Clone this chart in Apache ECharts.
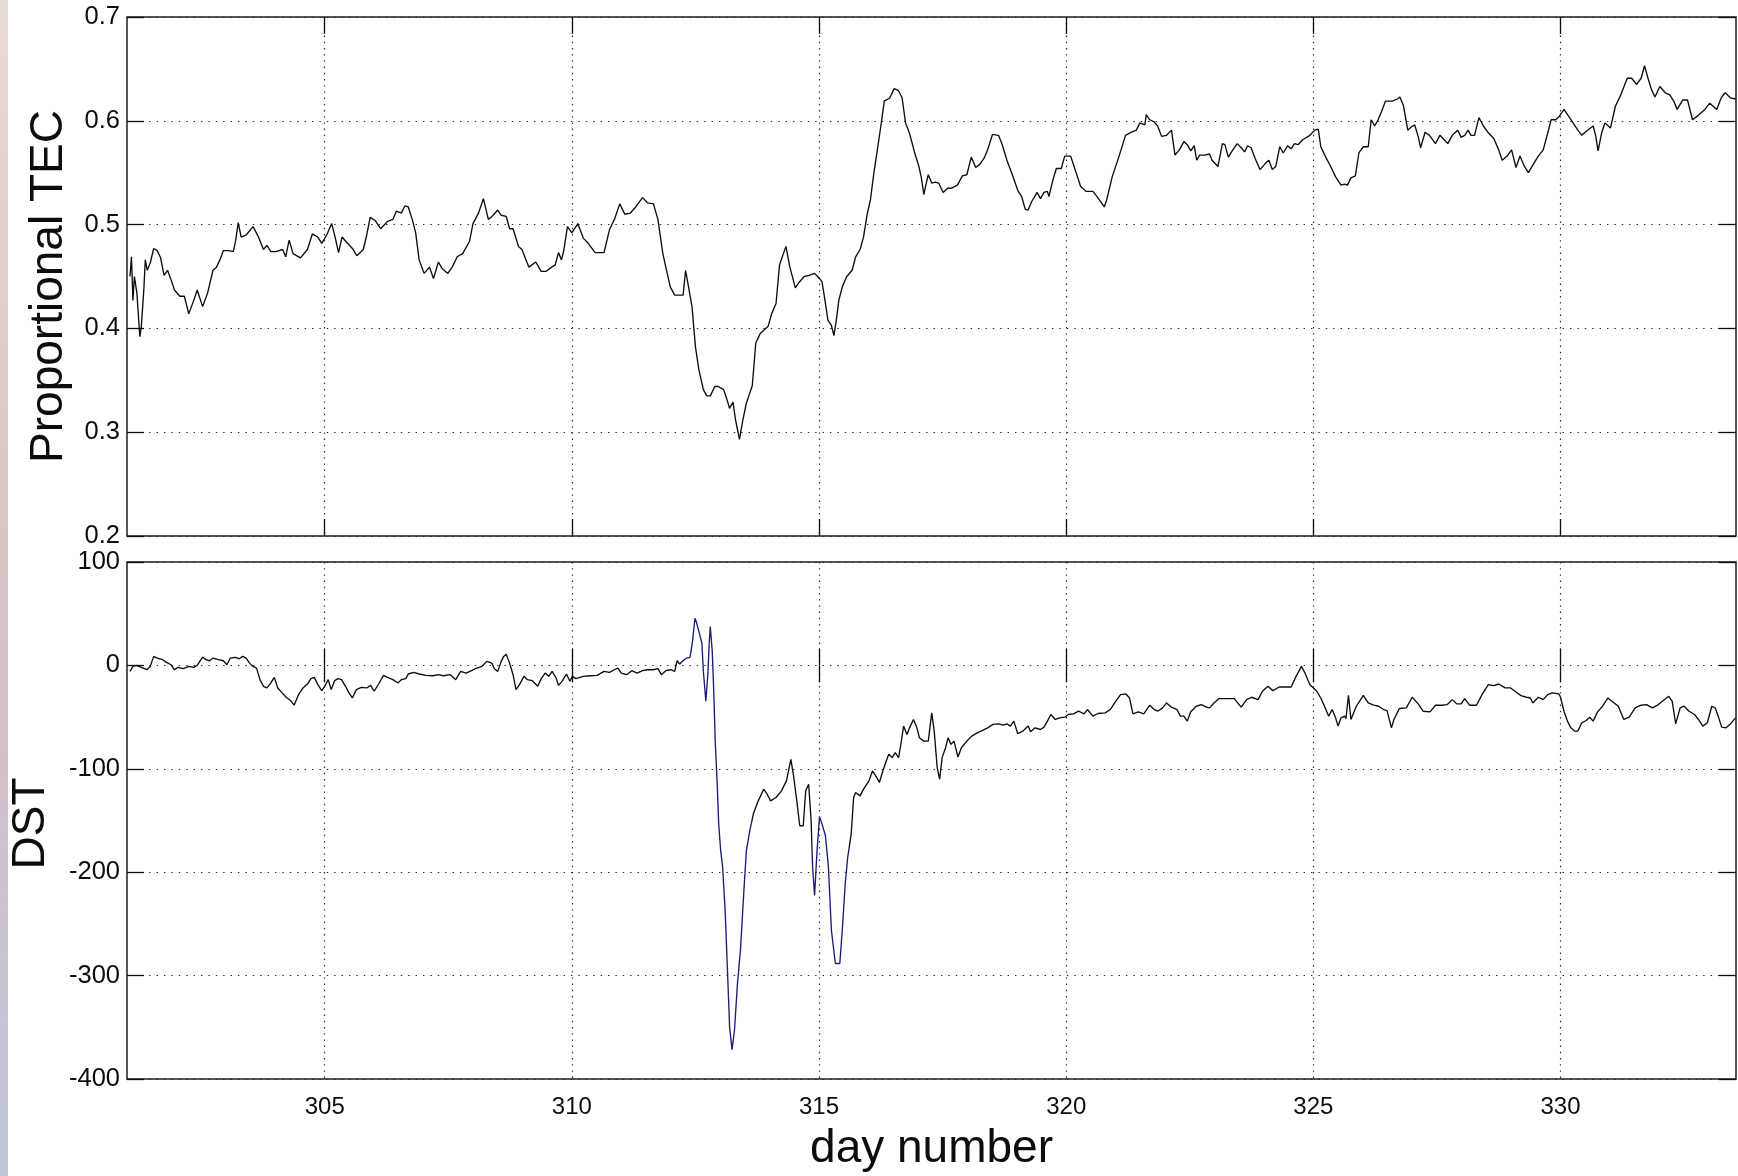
<!DOCTYPE html>
<html>
<head>
<meta charset="utf-8">
<title>Proportional TEC and DST</title>
<script src="https://cdn.jsdelivr.net/npm/echarts@6/dist/echarts.min.js"></script>
<style>
  html, body { margin: 0; padding: 0; background: #ffffff; }
  #chart { width: 1738px; height: 1176px; }
</style>
</head>
<body>
<div id="chart"></div>
<script>
// Day-of-year positions and proportional TEC values
const tecDays = [
  301.06,301.09,301.12,301.15,301.20,301.26,301.29,301.34,301.37,301.41,301.47,301.54,301.61,301.68,301.75,301.82,301.89,301.96,
  302.07,302.16,302.25,302.35,302.42,302.53,302.63,302.74,302.81,302.88,302.95,
  303.06,303.15,303.20,303.25,303.31,303.41,303.55,303.66,303.76,303.83,303.91,
  304.01,304.15,304.21,304.28,304.36,304.51,304.65,304.75,304.86,304.94,
  305.04,305.14,305.21,305.28,305.35,305.46,305.56,305.65,305.78,305.85,305.92,
  306.02,306.13,306.27,306.38,306.45,306.55,306.62,306.69,306.77,306.84,306.91,
  307.01,307.12,307.20,307.30,307.37,307.49,307.58,307.68,307.79,307.93,
  308.00,308.11,308.21,308.31,308.39,308.50,308.57,308.67,308.74,308.81,308.92,308.99,
  309.13,309.27,309.38,309.48,309.59,309.66,309.73,309.79,309.84,309.91,
  310.00,310.12,310.23,310.33,310.47,310.65,310.76,310.86,310.97,
  311.07,311.18,311.29,311.43,311.53,311.65,311.74,311.84,311.90,311.99,
  312.08,312.25,312.30,312.36,312.43,312.50,312.57,312.66,312.73,312.80,312.89,312.96,
  313.07,313.14,313.19,313.26,313.31,313.39,313.46,313.53,313.65,313.72,313.81,313.92,313.97,
  314.04,314.13,314.20,314.33,314.41,314.52,314.59,314.70,314.80,314.91,
  315.01,315.06,315.12,315.18,315.25,315.30,315.35,315.40,315.47,315.56,315.67,315.74,315.83,315.90,315.97,
  316.04,316.11,316.18,316.25,316.32,316.43,316.52,316.61,316.68,316.75,316.83,316.93,
  317.02,317.07,317.12,317.16,317.21,317.28,317.35,317.42,317.51,317.60,317.67,317.80,317.90,317.99,
  318.08,318.17,318.25,318.34,318.41,318.51,318.63,318.70,318.80,318.91,
  319.02,319.10,319.17,319.23,319.30,319.41,319.48,319.55,319.62,319.65,319.72,319.80,319.90,319.97,
  320.09,320.18,320.29,320.40,320.54,320.64,320.77,320.82,320.93,
  321.07,321.20,321.32,321.42,321.49,321.59,321.62,321.69,321.78,321.85,321.93,
  322.03,322.13,322.20,322.29,322.38,322.45,322.52,322.59,322.64,322.70,322.80,322.90,322.95,
  323.07,323.16,323.21,323.28,323.37,323.46,323.54,323.61,323.67,323.74,323.82,323.92,
  324.03,324.10,324.17,324.24,324.32,324.39,324.48,324.55,324.62,324.69,324.79,324.93,
  325.03,325.10,325.15,325.24,325.35,325.45,325.56,325.63,325.69,325.76,325.85,325.92,
  326.01,326.11,326.17,326.24,326.31,326.38,326.46,326.60,326.70,326.75,326.82,326.91,326.98,
  327.05,327.12,327.17,327.26,327.35,327.47,327.56,327.64,327.72,327.81,327.92,327.99,
  328.06,328.13,328.19,328.26,328.35,328.44,328.53,328.65,328.75,328.82,328.92,
  329.01,329.10,329.18,329.27,329.35,329.46,329.55,329.65,329.74,329.81,329.90,329.97,
  330.07,330.17,330.24,330.35,330.43,330.52,330.66,330.71,330.76,330.83,330.90,
  331.01,331.11,331.22,331.35,331.44,331.54,331.63,331.70,331.77,331.84,331.91,
  332.01,332.12,332.21,332.29,332.36,332.47,332.57,332.67,332.78,332.92,
  333.02,333.16,333.25,333.33,333.44,333.54
];
const tecValues = [
  0.450,0.469,0.427,0.450,0.434,0.392,0.402,0.437,0.466,0.456,0.463,0.477,0.475,0.468,0.451,0.456,0.447,0.437,
  0.431,0.431,0.414,0.427,0.437,0.421,0.434,0.456,0.459,0.466,0.475,
  0.475,0.474,0.485,0.502,0.488,0.490,0.498,0.488,0.476,0.480,0.474,
  0.474,0.476,0.469,0.485,0.472,0.468,0.476,0.491,0.488,0.482,
  0.490,0.501,0.488,0.473,0.488,0.482,0.477,0.470,0.476,0.490,0.507,
  0.504,0.496,0.503,0.505,0.513,0.511,0.518,0.517,0.505,0.492,0.466,
  0.453,0.459,0.448,0.464,0.458,0.453,0.459,0.469,0.472,0.484,
  0.501,0.511,0.525,0.505,0.508,0.514,0.509,0.508,0.496,0.496,0.479,0.476,
  0.459,0.464,0.455,0.455,0.459,0.461,0.473,0.466,0.476,0.498,
  0.492,0.501,0.487,0.482,0.473,0.473,0.495,0.505,0.520,
  0.510,0.511,0.517,0.526,0.521,0.520,0.505,0.472,0.459,0.440,
  0.432,0.432,0.456,0.440,0.421,0.382,0.360,0.341,0.335,0.335,0.344,0.344,
  0.341,0.331,0.323,0.329,0.312,0.293,0.312,0.328,0.345,0.386,0.395,0.400,0.402,
  0.414,0.424,0.461,0.479,0.459,0.439,0.444,0.450,0.451,0.453,
  0.448,0.445,0.427,0.408,0.403,0.393,0.408,0.427,0.440,0.450,0.456,0.469,0.476,0.488,0.509,
  0.524,0.550,0.572,0.595,0.619,0.622,0.631,0.629,0.622,0.598,0.588,0.570,
  0.556,0.545,0.529,0.538,0.548,0.540,0.541,0.540,0.531,0.535,0.535,0.538,0.547,0.548,
  0.565,0.555,0.558,0.564,0.572,0.587,0.586,0.578,0.562,0.548,
  0.533,0.527,0.515,0.514,0.522,0.531,0.525,0.531,0.532,0.527,0.541,0.554,0.554,0.566,
  0.566,0.553,0.537,0.532,0.532,0.526,0.517,0.524,0.546,
  0.566,0.586,0.589,0.591,0.598,0.596,0.606,0.601,0.599,0.595,0.585,
  0.586,0.591,0.567,0.572,0.580,0.577,0.571,0.576,0.562,0.567,0.567,0.568,0.562,
  0.556,0.578,0.577,0.565,0.572,0.578,0.574,0.570,0.576,0.574,0.564,0.553,
  0.559,0.562,0.553,0.556,0.575,0.569,0.576,0.573,0.578,0.577,0.582,0.586,
  0.591,0.592,0.575,0.566,0.556,0.546,0.538,0.539,0.538,0.545,0.547,0.569,
  0.575,0.575,0.601,0.595,0.601,0.609,0.619,0.619,0.621,0.623,0.615,0.591,0.594,
  0.596,0.585,0.574,0.589,0.586,0.578,0.586,0.582,0.578,0.586,0.591,0.584,
  0.586,0.591,0.586,0.586,0.603,0.595,0.589,0.583,0.572,0.562,0.566,
  0.572,0.555,0.566,0.556,0.550,0.559,0.566,0.572,0.588,0.601,0.601,0.604,
  0.611,0.604,0.599,0.591,0.586,0.590,0.595,0.586,0.571,0.588,0.598,
  0.593,0.614,0.625,0.641,0.641,0.635,0.641,0.653,0.641,0.630,0.623,
  0.633,0.627,0.625,0.619,0.611,0.620,0.620,0.601,0.605,0.611,
  0.617,0.611,0.622,0.627,0.622,0.621
];

// Day-of-year positions and DST index values (nT)
const dstDays = [
  301.06,301.12,301.19,301.29,301.40,301.47,301.54,301.61,301.72,301.79,301.89,301.96,
  302.03,302.14,302.25,302.35,302.42,302.53,302.60,302.67,302.74,302.85,302.95,
  303.02,303.09,303.20,303.27,303.34,303.41,303.48,303.55,303.62,303.69,303.76,303.83,303.91,303.98,
  304.05,304.14,304.22,304.31,304.38,304.47,304.56,304.65,304.72,304.79,304.86,304.94,
  305.00,305.07,305.13,305.20,305.27,305.34,305.42,305.49,305.56,305.64,305.74,305.85,305.93,
  306.00,306.09,306.19,306.27,306.38,306.48,306.55,306.64,306.69,306.80,306.91,
  307.05,307.19,307.30,307.40,307.54,307.65,307.75,307.86,307.97,
  308.05,308.18,308.28,308.38,308.43,308.50,308.57,308.62,308.67,308.74,308.81,308.87,308.94,
  309.03,309.10,309.20,309.31,309.38,309.46,309.53,309.60,309.68,309.73,309.80,309.89,309.96,
  310.01,310.08,310.23,310.37,310.51,310.65,310.76,310.86,310.93,
  311.00,311.11,311.21,311.32,311.43,311.53,311.64,311.74,311.81,311.90,
  312.00,312.08,312.13,312.18,312.25,312.32,312.39,312.44,312.49,312.52,312.57,312.63,312.66,312.71,312.75,312.78,312.80,312.84,312.87,312.90,312.94,312.97,
  313.01,313.05,313.10,313.15,313.19,313.24,313.29,313.35,313.41,313.48,313.53,313.60,313.67,313.77,313.88,313.95,
  314.02,314.13,314.24,314.34,314.43,314.48,314.55,314.61,314.68,314.73,314.79,314.84,314.87,314.91,314.96,
  315.01,315.06,315.13,315.19,315.25,315.33,315.42,315.47,315.53,315.58,315.65,315.70,315.74,315.83,315.90,
  316.01,316.08,316.17,316.22,316.29,316.36,316.41,316.48,316.54,316.61,316.66,316.71,316.78,316.83,316.91,316.98,
  317.03,317.12,317.21,317.28,317.33,317.39,317.44,317.49,317.56,317.61,317.67,317.73,317.81,317.88,317.99,
  318.09,318.20,318.31,318.41,318.52,318.63,318.73,318.80,318.87,318.94,
  319.02,319.12,319.23,319.28,319.37,319.48,319.55,319.62,319.69,319.78,319.87,319.97,
  320.04,320.15,320.25,320.36,320.43,320.54,320.64,320.79,320.89,320.98,
  321.10,321.21,321.28,321.35,321.46,321.57,321.69,321.78,321.85,321.95,
  322.03,322.13,322.24,322.31,322.38,322.45,322.52,322.63,322.73,322.84,322.90,322.99,
  323.09,323.26,323.40,323.54,323.65,323.75,323.88,323.97,
  324.08,324.18,324.31,324.55,324.65,324.76,324.83,324.90,324.94,
  325.00,325.07,325.15,325.24,325.31,325.38,325.45,325.50,325.56,325.63,325.66,325.71,325.76,325.87,
  326.01,326.11,326.22,326.32,326.42,326.49,326.58,326.63,326.74,326.88,
  327.00,327.12,327.22,327.36,327.47,327.60,327.71,327.81,327.90,327.99,
  328.06,328.16,328.30,328.42,328.54,328.65,328.75,328.88,328.99,
  329.10,329.20,329.31,329.39,329.44,329.55,329.65,329.74,329.83,329.97,
  330.00,330.07,330.14,330.21,330.29,330.35,330.43,330.52,330.59,330.66,330.75,330.85,330.96,
  331.04,331.17,331.28,331.39,331.51,331.63,331.74,331.86,331.98,
  332.08,332.19,332.26,332.33,332.42,332.50,332.60,332.71,332.79,332.88,332.97,
  333.06,333.13,333.19,333.26,333.35,333.44,333.54
];
const dstValues = [
  -5.8,-1.0,0,-1.9,-4.2,-1.0,8.7,7.1,5.5,3.2,0.6,-4.2,
  -1.9,-3.2,-1.0,-1.9,0,8.0,5.5,4.5,7.1,5.5,4.5,
  0.6,7.1,7.7,6.4,8.7,7.1,2.2,-1.0,-2.6,-13.8,-20.2,-21.8,-17.0,-11.6,
  -21.8,-26.6,-30.8,-34.0,-38.5,-28.3,-21.8,-18.0,-12.8,-11.6,-18.6,-24.4,
  -20.2,-13.8,-23.4,-14.8,-12.8,-13.8,-20.2,-26.6,-31.5,-23.4,-21.2,-21.8,-19.3,
  -25.0,-18.0,-9.6,-11.6,-13.8,-17.0,-13.8,-12.8,-8.3,-6.7,-8.3,
  -9.6,-10.0,-9.0,-10.0,-9.0,-13.8,-5.8,-7.4,-5.1,
  -3.2,-1.0,3.9,2.2,-3.2,-5.8,3.9,8.7,10.9,2.2,-9.0,-23.4,-18.6,
  -10.6,-13.8,-14.8,-20.2,-12.8,-7.4,-10.6,-5.8,-12.2,-19.3,-15.4,-8.3,-15.4,
  -10.6,-12.8,-10.6,-10.0,-9.6,-5.8,-6.7,-4.2,-2.6,
  -7.4,-9.0,-5.1,-7.4,-5.1,-4.2,-4.2,-3.2,-9.0,-5.1,
  -4.2,-5.8,4.5,1.3,4.5,7.1,7.7,23.1,45.6,41.7,32.7,21.5,-5.8,-34.7,-9.0,23.1,37.6,13.5,-25.0,-73.2,-114.9,-153.5,
  -179.1,-195.2,-236.9,-297.9,-349.3,-371.7,-352.5,-307.5,-275.4,-217.7,-179.1,-159.9,-143.8,-131.0,-119.7,-124.6,
  -131.0,-127.8,-121.3,-111.7,-90.9,-105.3,-131.0,-155.1,-155.1,-121.3,-114.9,-150.2,-195.2,-222.5,-179.1,
  -146.4,-153.5,-164.7,-195.2,-256.2,-288.3,-288.3,-256.2,-211.2,-185.6,-163.1,-127.8,-123.0,-126.2,-119.7,
  -111.7,-102.1,-108.5,-113.3,-102.1,-92.5,-86.0,-89.2,-84.4,-89.2,-74.8,-58.7,-66.8,-60.4,-52.3,-60.4,
  -70.0,-73.2,-73.2,-45.9,-63.6,-98.9,-110.1,-89.2,-79.6,-70.0,-76.4,-73.2,-88.6,-79.6,-73.2,
  -68.4,-65.2,-62.9,-60.4,-57.1,-56.5,-57.8,-56.5,-58.7,-53.9,
  -66.1,-63.6,-58.7,-64.2,-60.4,-62.0,-59.7,-53.9,-47.5,-52.3,-50.7,-50.1,
  -47.5,-46.9,-44.3,-46.9,-42.7,-49.1,-46.5,-45.9,-42.7,-36.3,
  -28.3,-27.6,-31.5,-46.9,-44.9,-46.9,-38.5,-42.7,-44.3,-41.1,
  -36.3,-40.4,-42.7,-49.1,-49.1,-53.9,-44.9,-39.5,-37.9,-40.4,-41.1,-36.3,
  -32.1,-32.1,-32.1,-40.4,-33.1,-30.8,-33.1,-25.0,
  -20.2,-24.4,-20.9,-20.9,-10.6,-1.0,-7.4,-15.4,-19.3,
  -21.8,-25.0,-31.5,-41.1,-49.1,-42.7,-50.7,-58.7,-50.7,-49.1,-51.4,-28.9,-52.3,-39.5,
  -28.9,-36.3,-38.5,-39.5,-42.7,-43.7,-60.4,-52.3,-41.7,-41.1,
  -30.8,-37.2,-44.3,-44.9,-38.5,-38.5,-37.9,-33.1,-37.2,-37.2,
  -32.1,-38.5,-38.5,-27.6,-18.6,-19.6,-18.0,-21.8,-21.8,
  -25.7,-29.2,-30.8,-31.5,-36.3,-30.8,-33.1,-28.3,-26.6,-27.6,
  -30.8,-44.3,-53.9,-60.4,-63.6,-63.6,-55.5,-53.3,-50.1,-53.9,-44.9,-39.5,-31.5,
  -34.7,-39.5,-52.3,-50.1,-41.1,-38.5,-37.9,-41.1,-37.9,
  -34.0,-29.9,-34.7,-56.5,-41.1,-39.5,-44.3,-47.5,-52.3,-58.7,-55.5,
  -39.5,-41.1,-49.1,-59.7,-60.4,-56.5,-50.7
];

// Tick positions on the day axis
const dayTicks = [305, 310, 315, 320, 325, 330];
const dayMin = 301;
const dayMax = 333.55;

const tecSeries = tecDays.map((d, i) => [d, tecValues[i]]);
const dstSeries = dstDays.map((d, i) => [d, dstValues[i]]);

const FONT = '"Liberation Sans", Arial, Helvetica, sans-serif';
const INK = '#0d0d0d';
const gridDot = '#262626';

function dayAxis(gridIndex, position, showLabels) {
  return {
    type: 'value',
    gridIndex: gridIndex,
    position: position,
    min: dayMin,
    max: dayMax,
    axisLine: { show: false },
    axisTick: {
      show: true, inside: true, length: 17,
      customValues: dayTicks,
      lineStyle: { color: INK, width: 1.3 }
    },
    axisLabel: {
      show: showLabels,
      customValues: dayTicks,
      margin: 16,
      fontFamily: FONT, fontSize: 24, color: INK
    },
    splitLine: {
      show: position === 'bottom',
      lineStyle: { color: gridDot, width: 1.2, type: [1.4, 4.8] }
    }
  };
}

function valueAxis(gridIndex, position, min, max, interval, digits, showLabels) {
  return {
    type: 'value',
    gridIndex: gridIndex,
    position: position,
    min: min, max: max, interval: interval,
    axisLine: { show: false },
    axisTick: { show: true, inside: true, length: 17, lineStyle: { color: INK, width: 1.3 } },
    axisLabel: {
      show: showLabels,
      margin: 7,
      fontFamily: FONT, fontSize: 25.5, color: INK,
      formatter: v => v.toFixed(digits)
    },
    splitLine: {
      show: position === 'left',
      lineStyle: { color: gridDot, width: 1.2, type: [1.4, 6] }
    }
  };
}

const chart = echarts.init(document.getElementById('chart'), null, { renderer: 'canvas' });

const xMainBottom = dayAxis(1, 'bottom', true);
xMainBottom.name = 'day number';
xMainBottom.nameLocation = 'middle';
xMainBottom.nameGap = 47;
xMainBottom.nameTextStyle = { fontFamily: FONT, fontSize: 46, color: INK };

const yTec = valueAxis(0, 'left', 0.2, 0.7, 0.1, 1, true);
yTec.name = 'Proportional TEC';
yTec.nameLocation = 'middle';
yTec.nameGap = 55;
yTec.nameTextStyle = { fontFamily: FONT, fontSize: 46, color: INK, padding: [0, 20, 0, 0] };

const yDst = valueAxis(1, 'left', -400, 100, 100, 0, true);
yDst.name = 'DST';
yDst.nameLocation = 'middle';
yDst.nameGap = 73;
yDst.nameTextStyle = { fontFamily: FONT, fontSize: 46, color: INK, padding: [0, 6, 0, 0] };

chart.setOption({
  backgroundColor: '#ffffff',
  animation: false,
  graphic: [{
    type: 'rect',
    left: 0, top: 0, z: -10,
    shape: { width: 8, height: 1176 },
    style: {
      fill: {
        type: 'linear', x: 0, y: 0, x2: 0, y2: 1,
        colorStops: [
          { offset: 0, color: '#e9dcd4' },
          { offset: 0.4, color: '#dcc6c0' },
          { offset: 0.62, color: '#d5bfca' },
          { offset: 1, color: '#bec6da' }
        ]
      }
    }
  }],
  grid: [
    { left: 127, right: 2, top: 17, height: 519, show: true, borderColor: '#1e1e1e', borderWidth: 1.5, backgroundColor: 'transparent' },
    { left: 127, right: 2, top: 562, height: 517, show: true, borderColor: '#1e1e1e', borderWidth: 1.5, backgroundColor: 'transparent' }
  ],
  xAxis: [
    dayAxis(0, 'bottom', false),
    xMainBottom,
    dayAxis(0, 'top', false),
    dayAxis(1, 'top', false)
  ],
  yAxis: [
    yTec,
    yDst,
    valueAxis(0, 'right', 0.2, 0.7, 0.1, 1, false),
    valueAxis(1, 'right', -400, 100, 100, 0, false)
  ],
  visualMap: [{
    type: 'piecewise',
    show: false,
    seriesIndex: 1,
    dimension: 0,
    pieces: [
      { lt: 312.2, color: INK },
      { gte: 312.2, lt: 313.65, color: '#1c1c78' },
      { gte: 313.65, lt: 314.85, color: INK },
      { gte: 314.85, lt: 315.6, color: '#1c1c78' },
      { gte: 315.6, color: INK }
    ]
  }],
  series: [
    {
      name: 'Proportional TEC',
      type: 'line',
      xAxisIndex: 0, yAxisIndex: 0,
      data: tecSeries,
      showSymbol: false,
      symbol: 'none',
      lineStyle: { color: INK, width: 1.35 },
      z: 5
    },
    {
      name: 'DST',
      type: 'line',
      xAxisIndex: 1, yAxisIndex: 1,
      data: dstSeries,
      showSymbol: false,
      symbol: 'none',
      lineStyle: { width: 1.35 },
      z: 5
    }
  ]
});
</script>
</body>
</html>
